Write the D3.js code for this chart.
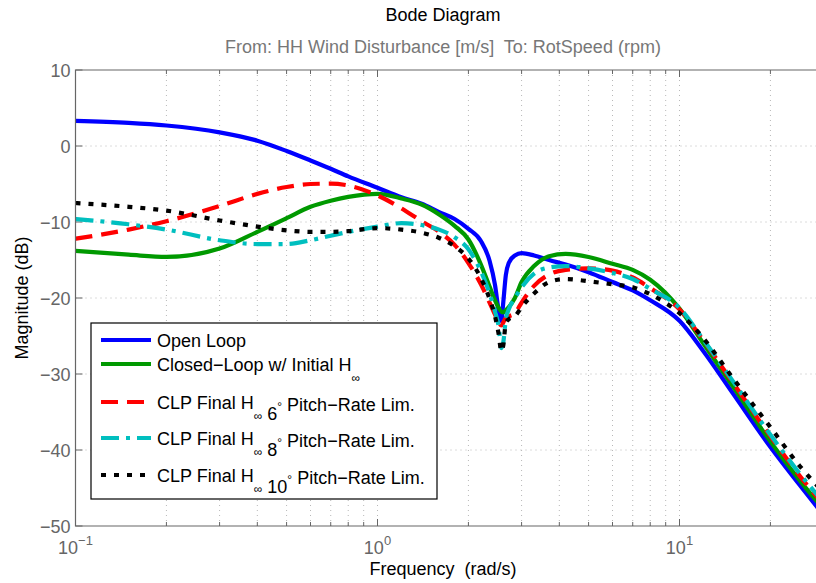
<!DOCTYPE html>
<html>
<head>
<meta charset="utf-8">
<script src="https://cdn.jsdelivr.net/npm/d3@7"></script>
<style>
  body { margin: 0; background: #fff; }
  svg { display: block; }
  text { font-family: "Liberation Sans", Arial, sans-serif; white-space: pre; }
</style>
</head>
<body>
<svg id="chart" width="816" height="583"></svg>
<script>
// frequency grid (rad/s), shared by every series
const freq = [0.1, 0.15, 0.2, 0.3, 0.4, 0.5, 0.6, 0.7, 0.8, 1.0, 1.2, 1.4, 1.6, 1.8, 2.0, 2.2,
  2.35, 2.45, 2.52, 2.57, 2.61, 2.66, 2.72, 2.85, 3.0, 3.3, 3.7, 4.2, 5, 6, 7, 8, 10, 12, 15, 20, 25, 30];

// magnitudes (dB)
const openLoop = [3.3, 3.05, 2.7, 1.8, 0.7, -0.65, -1.9, -3.0, -4.0, -5.5, -6.75, -7.6, -8.7, -9.6, -10.9, -12.5,
  -15.1, -18.3, -21.7, -23.0, -20.5, -17.0, -15.4, -14.4, -14.1, -14.4, -15.0, -15.6, -16.6, -17.9, -19.0, -20.3,
  -23.0, -27.0, -32.5, -39.6, -44.6, -48.6];
const closedInitial = [-13.8, -14.3, -14.6, -13.5, -11.3, -9.5, -8.0, -7.2, -6.7, -6.3, -6.9, -7.7, -9.0, -10.5, -12.3, -15.6,
  -18.5, -20.3, -21.3, -21.8, -21.9, -21.6, -21.2, -20.0, -17.9, -15.8, -14.5, -14.2, -14.6, -15.5, -16.3, -17.6,
  -21.4, -26.0, -31.6, -38.9, -44.0, -47.8];
const final6 = [-12.2, -11.0, -9.9, -7.9, -6.3, -5.4, -5.0, -4.95, -5.2, -6.5, -8.2, -9.9, -11.3, -13.0, -15.4, -18.2,
  -20.6, -22.2, -23.2, -23.6, -23.2, -22.6, -22.4, -22.0, -20.6, -18.4, -16.9, -16.3, -16.1, -16.4, -17.3, -18.7,
  -21.5, -25.6, -31.1, -38.2, -43.4, -47.2];
const final8 = [-9.6, -10.3, -11.0, -12.4, -12.9, -12.9, -12.4, -11.8, -11.3, -10.6, -10.15, -10.4, -11.0, -12.0, -13.6, -16.5,
  -19.4, -21.8, -23.8, -26.6, -25.8, -22.8, -21.5, -20.0, -18.6, -16.8, -16.0, -15.8, -16.1, -16.7, -17.5, -18.8,
  -21.3, -25.5, -30.9, -38.0, -43.1, -46.9];
const final10 = [-7.5, -8.0, -8.5, -9.8, -10.6, -11.1, -11.3, -11.3, -11.2, -10.8, -11.0, -11.4, -12.1, -13.2, -14.8, -17.4,
  -20.1, -22.4, -24.8, -27.0, -26.2, -23.3, -22.8, -22.4, -21.2, -19.4, -17.9, -17.5, -17.8, -18.2, -18.6, -19.5,
  -22.0, -25.3, -30.5, -37.0, -42.1, -45.6];

// legend labels: plain text, {sub} subscript, {sup} superscript
const legendLabels = [
  ["Open Loop"],
  ["Closed\u2212Loop w/ Initial H", {sub: "\u221e"}],
  ["CLP Final H", {sub: "\u221e"}, " 6", {sup: "\u00b0"}, " Pitch\u2212Rate Lim."],
  ["CLP Final H", {sub: "\u221e"}, " 8", {sup: "\u00b0"}, " Pitch\u2212Rate Lim."],
  ["CLP Final H", {sub: "\u221e"}, " 10", {sup: "\u00b0"}, " Pitch\u2212Rate Lim."]
];

const yTicks = [10, 0, -10, -20, -30, -40, -50];
const xDecades = [-1, 0, 1];

const series = [
  {values: openLoop, color: "#0000ff", dash: null},
  {values: closedInitial, color: "#009900", dash: null},
  {values: final6, color: "#ff0000", dash: "17,9"},
  {values: final8, color: "#00bfbf", dash: "18,7,4,7"},
  {values: final10, color: "#000000", dash: "5,8"}
];

const svg = d3.select("#chart");
const plotL = 75.5, plotT = 70, plotB = 526;
const x = d3.scaleLog().domain([0.1, 30]).range([plotL, plotL + 302 * Math.log10(300)]);
const y = d3.scaleLinear().domain([-50, 10]).range([plotB, plotT]);
const plotR = x.range()[1];
const axisColor = "#666666";

// grid
const minorX = [];
for (let d = -1; d <= 1; d++) for (let k = 1; k < 10; k++) {
  const v = k * Math.pow(10, d);
  if (v > 0.1 && v < 30) minorX.push(v);
}
svg.append("g").selectAll("line").data(minorX).join("line")
  .attr("x1", d => x(d)).attr("x2", d => x(d))
  .attr("y1", plotT).attr("y2", plotB)
  .attr("stroke", "#b8b8b8").attr("stroke-dasharray", "1,4");
svg.append("g").selectAll("line").data(yTicks.filter(t => t > -50 && t < 10)).join("line")
  .attr("x1", plotL).attr("x2", plotR)
  .attr("y1", d => y(d)).attr("y2", d => y(d))
  .attr("stroke", "#b8b8b8").attr("stroke-dasharray", "1,4");

// ticks
const allX = minorX.concat([0.1]);
const isMajor = d => xDecades.includes(Math.round(Math.log10(d) * 1000) / 1000);
const tickG = svg.append("g").attr("stroke", axisColor);
tickG.selectAll(".tb").data(allX).join("line").attr("class", "tb")
  .attr("x1", d => x(d)).attr("x2", d => x(d))
  .attr("y1", plotB).attr("y2", d => plotB - (isMajor(d) ? 7 : 4));
tickG.selectAll(".tt").data(allX).join("line").attr("class", "tt")
  .attr("x1", d => x(d)).attr("x2", d => x(d))
  .attr("y1", plotT).attr("y2", d => plotT + (isMajor(d) ? 7 : 4));
tickG.selectAll(".tl").data(yTicks).join("line").attr("class", "tl")
  .attr("x1", plotL).attr("x2", plotL + 7)
  .attr("y1", d => y(d)).attr("y2", d => y(d));

// curves
svg.append("clipPath").attr("id", "plotclip")
  .append("rect").attr("x", plotL).attr("y", plotT).attr("width", plotR - plotL).attr("height", plotB - plotT);
const line = d3.line().x(d => x(d[0])).y(d => y(d[1])).curve(d3.curveMonotoneX);
svg.append("g").attr("clip-path", "url(#plotclip)")
  .selectAll("path").data(series).join("path")
  .attr("d", s => line(freq.map((f, i) => [f, s.values[i]])))
  .attr("fill", "none")
  .attr("stroke", s => s.color)
  .attr("stroke-width", 4.2)
  .attr("stroke-dasharray", s => s.dash);

// axes box (left, top, bottom)
svg.append("path")
  .attr("d", `M${plotR},${plotT}H${plotL}V${plotB}H${plotR}`)
  .attr("fill", "none").attr("stroke", axisColor).attr("stroke-width", 1.2);

// y tick labels
svg.append("g").selectAll("text").data(yTicks).join("text")
  .attr("x", plotL - 5).attr("y", d => y(d) + 6.5)
  .attr("text-anchor", "end").attr("font-size", 18).attr("fill", axisColor)
  .text(d => d < 0 ? "\u2212" + Math.abs(d) : d);

// x tick labels 10^n
const xl = svg.append("g").selectAll("text").data(xDecades).join("text")
  .attr("x", d => x(Math.pow(10, d))).attr("y", 554)
  .attr("text-anchor", "middle").attr("font-size", 18).attr("fill", axisColor);
xl.append("tspan").text("10");
xl.append("tspan").attr("dy", -9).attr("font-size", 13).text(d => d < 0 ? "\u2212" + Math.abs(d) : d);

// titles and labels
svg.append("text").attr("x", 443).attr("y", 21).attr("text-anchor", "middle")
  .attr("font-size", 18).attr("fill", "#000").text("Bode Diagram");
svg.append("text").attr("x", 443).attr("y", 53).attr("text-anchor", "middle")
  .attr("font-size", 18).attr("fill", "#777777").text("From: HH Wind Disturbance [m/s]  To: RotSpeed (rpm)");
svg.append("text").attr("x", 443).attr("y", 575).attr("text-anchor", "middle")
  .attr("font-size", 18).attr("fill", "#000").text("Frequency  (rad/s)");
svg.append("text").attr("transform", "translate(28,298) rotate(-90)").attr("text-anchor", "middle")
  .attr("font-size", 18).attr("fill", "#000").text("Magnitude (dB)");

// legend
const lg = svg.append("g").attr("transform", "translate(91,323)");
lg.append("rect").attr("width", 346).attr("height", 176)
  .attr("fill", "#fff").attr("stroke", "#000").attr("stroke-width", 1.2);
const rowY = [17, 41, 79, 115, 152];
const rows = lg.selectAll(".row").data(series).join("g").attr("class", "row")
  .attr("transform", (d, i) => `translate(0,${rowY[i]})`);
rows.append("line").attr("x1", 10).attr("x2", 60)
  .attr("stroke", s => s.color).attr("stroke-width", 4.2)
  .attr("stroke-dasharray", s => s.dash);
rows.append("text").attr("x", 66).attr("y", 6.5).attr("font-size", 18).attr("fill", "#000")
  .each(function(s, i) {
    const t = d3.select(this);
    legendLabels[i].forEach(part => {
      if (typeof part === "string") {
        t.append("tspan").text(part);
      } else if (part.sub) {
        t.append("tspan").attr("dy", 11).attr("font-size", 12).text(part.sub);
        t.append("tspan").attr("dy", -11).text("");
      } else if (part.sup) {
        t.append("tspan").attr("dy", -9).attr("font-size", 12).text(part.sup);
        t.append("tspan").attr("dy", 9).text("");
      }
    });
  });
</script>
</body>
</html>
